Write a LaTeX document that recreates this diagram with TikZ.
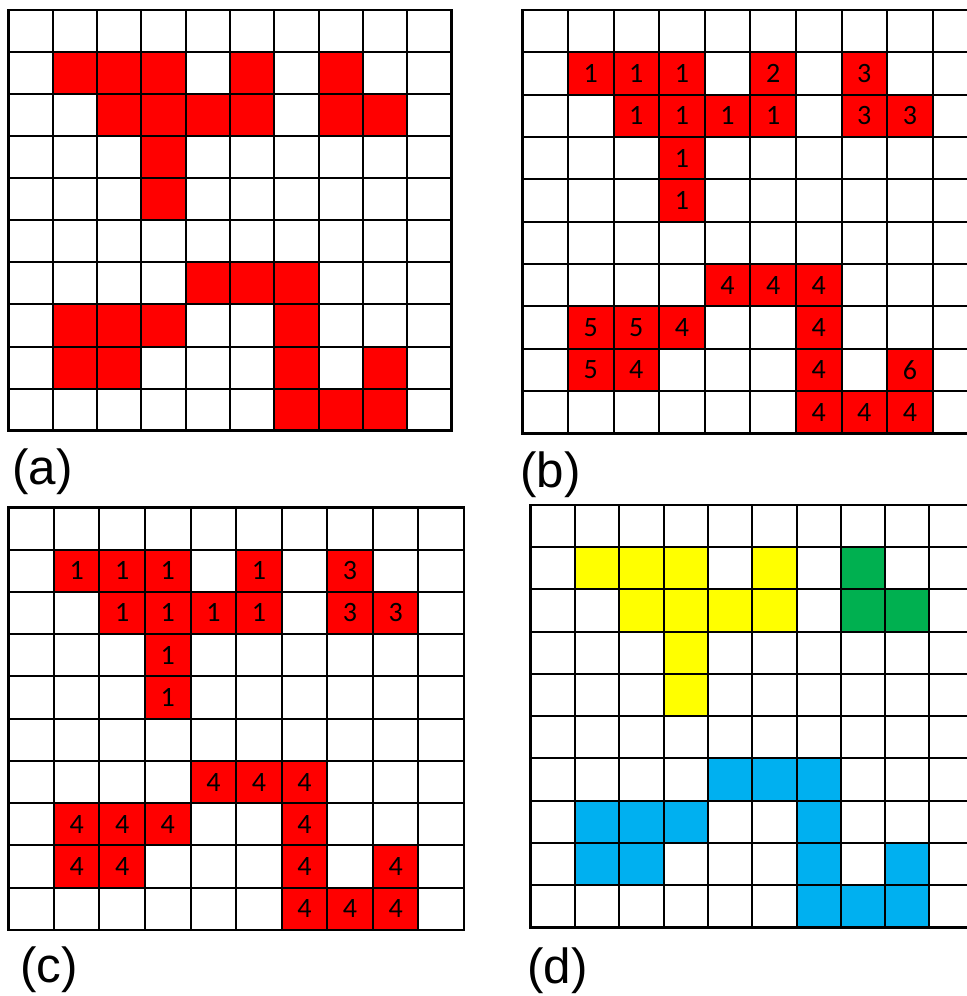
\documentclass[tikz,border=0pt]{standalone}
\usepackage{fontspec}
\setmainfont{Liberation Sans}
\newfontfamily\digitfont{Carlito}
\definecolor{cellred}{RGB}{255,0,0}
\definecolor{dcol1}{RGB}{255,255,0}
\definecolor{dcol3}{RGB}{0,176,80}
\definecolor{dcol4}{RGB}{0,176,240}
% filled cells: column/row/label in (b)/label in (c)
\newcommand\blobcells{1/1/1/1, 2/1/1/1, 3/1/1/1, 5/1/2/1, 7/1/3/3,
  2/2/1/1, 3/2/1/1, 4/2/1/1, 5/2/1/1, 7/2/3/3, 8/2/3/3,
  3/3/1/1, 3/4/1/1,
  4/6/4/4, 5/6/4/4, 6/6/4/4,
  1/7/5/4, 2/7/5/4, 3/7/4/4, 6/7/4/4,
  1/8/5/4, 2/8/4/4, 6/8/4/4, 8/8/6/4,
  6/9/4/4, 7/9/4/4, 8/9/4/4}
\begin{document}
\begin{tikzpicture}[x=0.75pt,y=-0.75pt,
    gridln/.style={black,line width=1.5pt},
    frameln/.style={black,line width=2pt},
    num/.style={font=\digitfont\fontsize{21}{21}\selectfont,inner sep=0pt},
    plabel/.style={font=\fontsize{37}{37}\selectfont,anchor=west,inner sep=0pt}]
  \useasboundingbox (0,0) rectangle (967,996);
  \clip (0,0) rectangle (967,996);
  \foreach \p/\xo/\yo/\cw/\ch in {a/8.3/10/44.34/42.07, b/522.3/10/45.6/42.33,
                                   c/8.3/507.3/45.57/42.27, d/530.7/505/44.3/42.23}{
    \pgfmathsetmacro\cwpt{\cw*0.75}
    \pgfmathsetmacro\chpt{\ch*0.75}
    \begin{scope}[shift={(\xo,\yo)}, x=\cwpt pt, y=-\chpt pt]
      % coloured cells, numbered in (b) and (c)
      \foreach \c/\r/\lb/\lc in \blobcells{
        \if d\p
          \fill[dcol\lc] (\c,\r) rectangle ++(1,1);
        \else
          \fill[cellred] (\c,\r) rectangle ++(1,1);
        \fi
        \if b\p \node[num] (\p-\c-\r) at (\c+0.5,\r+0.5) {\lb}; \fi
        \if c\p \node[num] (\p-\c-\r) at (\c+0.5,\r+0.5) {\lc}; \fi
      }
      % the 10x10 grid
      \foreach \i in {1,...,9}{
        \draw[gridln] (\i,0) -- (\i,10);
        \draw[gridln] (0,\i) -- (10,\i);
      }
      \draw[frameln] (0,0) rectangle (10,10);
    \end{scope}
  }
  \node[plabel] (capa) at (12,472) {(a)};
  \node[plabel] (capb) at (520,475) {(b)};
  \node[plabel] (capc) at (20,970) {(c)};
  \node[plabel] (capd) at (527,971) {(d)};
\end{tikzpicture}
\end{document}
